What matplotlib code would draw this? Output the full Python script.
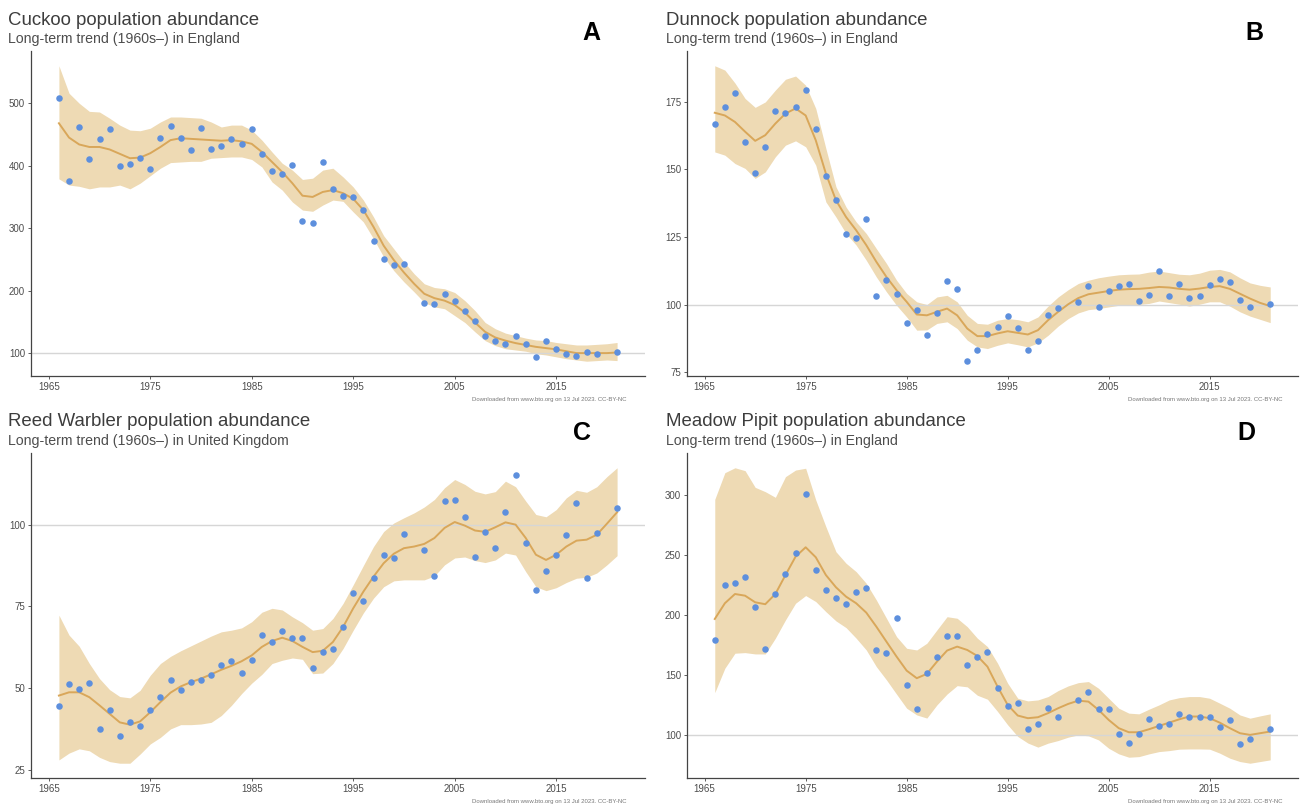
import numpy as np
import matplotlib
matplotlib.use("Agg")
import matplotlib.pyplot as plt

plt.rcParams['font.family'] = ['Liberation Sans', 'DejaVu Sans']

# years with an index value (no survey in 2001 and 2020)
pt_years = list(range(1966, 2001)) + list(range(2002, 2020)) + [2021]
# years of the smoothed trend and its band
trend_years = list(range(1966, 2022))

titles = ["Cuckoo population abundance", "Dunnock population abundance",
          "Reed Warbler population abundance", "Meadow Pipit population abundance"]
subtitles = ["Long-term trend (1960s\u2013) in England", "Long-term trend (1960s\u2013) in England",
             "Long-term trend (1960s\u2013) in United Kingdom", "Long-term trend (1960s\u2013) in England"]
letters = ["A", "B", "C", "D"]
xticks = [1965, 1975, 1985, 1995, 2005, 2015]
yticks = [[100, 200, 300, 400, 500], [75, 100, 125, 150, 175],
          [25, 50, 75, 100], [100, 150, 200, 250, 300]]

# Cuckoo
cuckoo_pts = [508, 375, 462, 410, 442, 458, 399, 402, 412, 394, 444, 463, 444, 425, 460, 427, 431, 443,
              435, 459, 418, 392, 387, 401, 311, 308, 406, 362, 351, 350, 329, 280, 250, 241, 242,
              181, 179, 195, 184, 168, 152, 127, 119, 115, 128, 114, 94, 120, 106, 98, 96, 101, 99,
              102]
cuckoo_trend = [468, 445, 434, 430, 430, 426, 419, 412, 413, 420, 430, 441, 444, 443, 442, 441, 440, 441,
                439, 435, 422, 406, 390, 372, 352, 350, 358, 361, 356, 347, 329, 302, 272, 249, 229, 211,
                195, 188, 184, 177, 165, 149, 134, 125, 120, 116, 113, 110, 108, 106, 103, 100, 100, 100,
                100, 101]
cuckoo_hi = [560, 516, 500, 487, 486, 476, 465, 457, 456, 460, 470, 478, 478, 477, 476, 470, 462, 465,
             465, 457, 441, 422, 404, 393, 378, 380, 393, 396, 382, 366, 345, 318, 288, 267, 246, 227,
             211, 205, 203, 197, 184, 168, 149, 139, 132, 128, 124, 121, 120, 117, 115, 113, 113, 114,
             115, 117]
cuckoo_lo = [379, 369, 367, 363, 366, 366, 369, 363, 372, 384, 396, 405, 406, 407, 407, 412, 413, 414,
             414, 410, 398, 374, 361, 342, 329, 327, 337, 345, 343, 326, 310, 283, 254, 232, 214, 198,
             181, 174, 171, 160, 149, 134, 120, 112, 107, 105, 103, 99, 97, 94, 91, 89, 87, 88, 89, 88]

# Dunnock
dunnock_pts = [166.8, 173, 178.4, 160.2, 148.7, 158.5, 171.8, 170.8, 173.2, 179.3, 165, 147.5, 138.7,
               126, 124.7, 131.5, 103, 108.9, 104, 93, 98.1, 88.7, 96.7, 108.6, 105.8, 79, 83.2, 88.9,
               91.7, 95.9, 91.3, 83.3, 86.4, 96, 98.6,
               100.9, 106.7, 99, 105, 106.8, 107.5, 101.2, 103.7, 112.4, 103.3, 107.5, 102.4, 103.3,
               107.1, 109.6, 108.4, 101.6, 99.1,
               100.1]
dunnock_trend = [171, 170, 167.6, 164, 160.6, 162.7, 167, 170.7, 172.6, 170,
                 160.8, 148.5, 138.6, 132.4, 127.5, 122, 115.8, 110.2, 105.3, 101,
                 96.3, 96, 97.3, 98.5, 96, 91.1, 88.3, 88.3, 89.3, 90.1,
                 89.5, 88.9, 90.5, 94.2, 97.3, 100.1, 102.4, 103.8, 104.4, 105,
                 105.5, 105.7, 105.8, 106.1, 106.5, 106.3, 105.8, 105.5, 105.9, 106.5,
                 106.8, 105.8, 104, 102.2, 100.6, 99.4]
dunnock_hi = [188.4, 186.8, 182, 176.3, 173, 175, 179.4, 183.4, 184.6, 181.2,
              172.6, 157.8, 143.6, 136.1, 130.6, 126.3, 120.7, 115.2, 109, 104.1,
              101, 100, 102.8, 103.4, 101, 96, 93, 92.7, 94.2, 94.8,
              94.4, 93.6, 95.4, 99.4, 102.8, 105.5, 107.8, 109, 109.9, 110.5,
              111, 111.2, 111.3, 112, 112.4, 111.8, 111.2, 111, 111.6, 112.7,
              113, 112.1, 109.9, 108, 107.1, 106.5]
dunnock_lo = [156.5, 155.3, 152.2, 150.4, 146.7, 149.1, 154.7, 159, 160.6, 158.4,
              151.6, 138, 132.4, 126.3, 122, 116.4, 110.2, 104.7, 99.7, 95.4,
              90.5, 90.6, 93, 93.6, 91.1, 86.8, 84.3, 83.7, 84.9, 85.8,
              85.1, 84.3, 85.8, 88.6, 92, 94.8, 96.9, 98.1, 98.5, 99.1,
              99.7, 100, 100, 100.4, 101.3, 100.7, 100.1, 99.4, 100.1, 101,
              101, 99.4, 97.3, 95.7, 94.5, 93.3]

# Reed Warbler
reed_pts = [44.5, 51.2, 49.8, 51.6, 37.5, 43.2, 35.2, 39.7, 38.5, 43.2, 47.4, 52.4, 49.4, 52, 52.4, 54,
            57, 58.4, 54.6, 58.5, 66.2, 64.1, 67.5, 65.3, 65.4, 56.1, 61, 62, 68.6, 79.2, 76.6, 83.6,
            90.8, 89.9, 97,
            92.1, 84.2, 107.2, 107.4, 102.2, 90.1, 97.6, 92.7, 103.8, 115.3, 94.5, 80.1, 85.9, 90.6,
            96.7, 106.7, 83.8, 97.4,
            105.2]
reed_trend = [47.7, 48.7, 48.7, 47.2, 44.7, 42.1, 39.5, 38.8, 39.8, 42.6,
              45.7, 48.6, 50.5, 51.8, 52.9, 54.2, 55.6, 56.8, 58.2, 60,
              62.6, 64.4, 65.4, 64.4, 62.6, 61, 61.4, 64.1, 68.7, 74.4,
              79.5, 84.1, 88.2, 91.1, 92.8, 93.3, 94.1, 95.9, 99, 100.8,
              99.7, 98.2, 97.8, 99.2, 100.7, 100, 95.9, 90.8, 89.2, 90.8,
              93.3, 95.1, 95.4, 96.9, 100.3, 103.8]
reed_hi = [72.3, 66.2, 62.8, 57.5, 52.9, 49.5, 47.4, 47, 49.3, 53.9,
           57.5, 59.7, 61.4, 62.9, 64.4, 65.9, 67.2, 67.7, 68.4, 70.3,
           73.2, 74.4, 73.9, 71.8, 70, 67.7, 68.2, 71.3, 75.9, 81.6,
           87.5, 93.3, 97.9, 100.5, 102.1, 103.6, 105.4, 107.7, 111.3, 113.8,
           112.3, 110.2, 109.4, 110.1, 113.3, 111.6, 107.2, 103.1, 102.4, 104.6,
           108.2, 110.5, 109.9, 111.6, 114.7, 117.4]
reed_lo = [28, 30.1, 31.4, 30.8, 28.8, 27.5, 27, 27, 29.8, 32.9,
           34.9, 37.5, 38.8, 38.8, 39, 39.5, 41.6, 44.7, 48.3, 51.5,
           54.2, 57.5, 58.5, 59.2, 58.8, 54.4, 54.6, 57.5, 62.1, 67.7,
           73, 77.5, 81, 82.8, 83.1, 83.1, 83.1, 84.3, 87.7, 89.8,
           90.1, 89, 88.4, 89.2, 91.3, 90.7, 85.6, 81, 79.8, 80.7,
           82.3, 83.6, 83.9, 85.2, 87.7, 90.5]

# Meadow Pipit
pipit_pts = [179.3, 225, 226.5, 231.8, 206.8, 171.8, 217.6, 234, 251.2, 300.5, 237.3, 220.9, 214.3, 209,
             218.7, 222, 170.5, 168, 197.6, 141.6, 121.6, 151.8, 165.2, 182.1, 182.1, 158, 164.7, 168.8,
             138.8, 124.4, 126.6, 105, 108.9, 122.2, 115,
             129.4, 135.5, 121.9, 121.9, 100.8, 93.3, 100.8, 113.6, 107.2, 109.4, 117.7, 115, 115.3,
             115.3, 106.9, 112.5, 92.8, 96.7,
             105.3]
pipit_trend = [196.5, 209.6, 217.3, 215.9, 210.4, 208.8, 217.3, 233.1, 248.4, 256.2,
               247.9, 233.1, 222.9, 215.1, 209.6, 201.8, 190.1, 177.6, 165.2, 153.5,
               147.2, 150.8, 161, 170.2, 173.5, 170.7, 165.7, 156.8, 140.2, 125,
               116.1, 113.9, 114.7, 118.1, 122.2, 125.8, 128.5, 127.7, 120.8, 112.5,
               105.6, 102.2, 102.2, 104.7, 107.5, 110.2, 113, 115.3, 115.3, 113.9,
               110.2, 105.6, 101.4, 100, 101.4, 102.8]
pipit_hi = [296.1, 318.3, 322.4, 320, 306.1, 302.5, 297.8, 315, 320.5, 322,
            295.6, 273.4, 252.5, 242.9, 235.9, 226.2, 212.3, 197.1, 181.8, 172.1,
            170.7, 176.3, 187.4, 198.4, 197.1, 190.1, 180.5, 173.5, 159.7, 143,
            130.5, 128.3, 129.1, 131.9, 136.9, 140.8, 143.5, 144.4, 138.8, 130.5,
            122.2, 118.1, 117.5, 121.4, 125, 129.1, 131, 131.9, 131.9, 130.5,
            126.4, 122.2, 116.6, 113.9, 115.8, 117.5]
pipit_lo = [135.2, 155.5, 168, 168.5, 167.4, 167.4, 180.5, 195.7, 209.6, 216,
            211, 202.6, 194.9, 189.3, 180.5, 170.7, 156.8, 145.8, 133.9, 122.2,
            116.6, 114, 125, 134, 141, 140, 133, 129.7, 119.5, 108.4,
            98.7, 93.2, 89.8, 93.1, 95.3, 98.1, 100, 99.2, 95.8, 88.9,
            84.2, 81.4, 81.9, 84.2, 86.1, 86.9, 88.1, 88.3, 88.3, 88.1,
            84.8, 80.6, 77.8, 76.4, 77.8, 79.2]

points = [cuckoo_pts, dunnock_pts, reed_pts, pipit_pts]
trends = [cuckoo_trend, dunnock_trend, reed_trend, pipit_trend]
highs = [cuckoo_hi, dunnock_hi, reed_hi, pipit_hi]
lows = [cuckoo_lo, dunnock_lo, reed_lo, pipit_lo]

W, H = 1300, 809
fig = plt.figure(figsize=(13, 8.09), dpi=100)

# panel boxes in pixels: left, top, right, bottom
boxes = [(31, 51, 645, 376), (687, 51, 1298, 376),
         (31, 453, 645, 778), (687, 453, 1298, 778)]
title_pos = [(8, 25, 43), (666, 25, 43), (8, 426, 445), (666, 426, 445)]
letter_pos = [(591, 33), (1254, 33), (582, 433), (1246, 433)]
credit_pos = [(627, 400), (1282, 400), (627, 802), (1282, 802)]

band_col = "#eedab4"
line_col = "#d9a75a"
pt_col = "#5d8fdd"

for i in range(4):
    l, t, r, b = boxes[i]
    ax = fig.add_axes([l / W, 1 - b / H, (r - l) / W, (b - t) / H])
    ax.fill_between(trend_years, lows[i], highs[i], color=band_col, lw=0, zorder=1)
    ax.axhline(100, color="#d6d6d6", lw=1.0, zorder=2)
    ax.plot(trend_years, trends[i], color=line_col, lw=1.4, zorder=3)
    ax.scatter(pt_years, points[i], s=22, color=pt_col, lw=0, zorder=4)
    ax.margins(x=0.05, y=0.05)
    ax.set_xticks(xticks)
    ax.set_yticks(yticks[i])
    for side in ["top", "right"]:
        ax.spines[side].set_visible(False)
    for side in ["left", "bottom"]:
        ax.spines[side].set_color("#444444")
        ax.spines[side].set_linewidth(0.9)
    ax.tick_params(length=2.2, width=0.6, color="#444444", labelsize=7,
                   labelcolor="#4d4d4d", pad=2)

    x, yt, ys = title_pos[i]
    fig.text(x / W, 1 - yt / H, titles[i], fontsize=13.4, color="#3d3d3d", va="baseline", ha="left")
    fig.text(x / W, 1 - ys / H, subtitles[i], fontsize=10.2, color="#4d4d4d", va="baseline", ha="left")
    lx, ly = letter_pos[i]
    fig.text(lx / W, 1 - ly / H, letters[i], fontsize=18, fontweight="bold", color="black",
             ha="center", va="center")
    cx, cy = credit_pos[i]
    fig.text(cx / W, 1 - cy / H, "Downloaded from www.bto.org on 13 Jul 2023. CC-BY-NC",
             fontsize=4.3, color="#777777", ha="right", va="center")

fig.savefig("out.png", dpi=100)
